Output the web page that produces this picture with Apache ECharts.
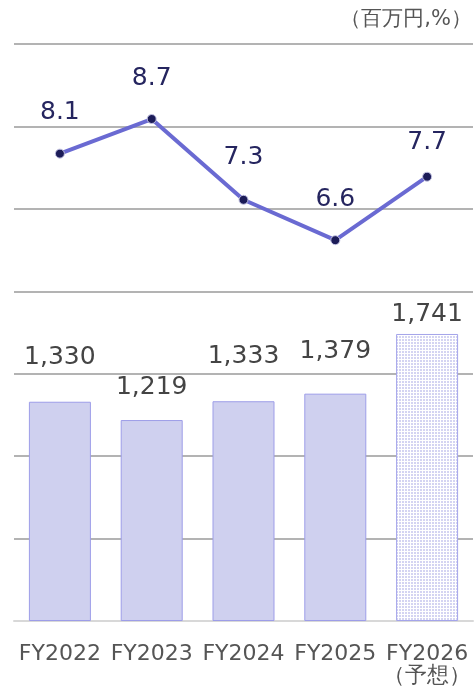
<!DOCTYPE html>
<html>
<head>
<meta charset="utf-8">
<script src="https://cdn.jsdelivr.net/npm/echarts@6/dist/echarts.min.js"></script>
<style>
  html, body { margin: 0; padding: 0; background: #fff; }
  #chart { width: 474px; height: 687px; }
</style>
</head>
<body>
<div id="chart"></div>
<script>
const categories = ['FY2022', 'FY2023', 'FY2024', 'FY2025', 'FY2026\n（予想）'];
const sales = [1330, 1219, 1333, 1379, 1741];   // 百万円
const margin = [8.1, 8.7, 7.3, 6.6, 7.7];       // %
const forecastIndex = 4;

// how far each label sits above its mark (label centre, px)
const barLabelLift = [44, 32, 44, 42, 19];
const lineLabelLift = [40, 40, 41, 40, 33];

const font = 'DejaVu Sans';

// dotted fill for the forecast bar
const makeDots = () => {
    const c = document.createElement('canvas');
    c.width = 3;
    c.height = 3;
    const ctx = c.getContext('2d');
    ctx.fillStyle = '#ffffff';
    ctx.fillRect(0, 0, 3, 3);
    ctx.fillStyle = '#d4d4f2';
    ctx.fillRect(0, 0, 2, 2);
    return c;
};

const chart = echarts.init(document.getElementById('chart'), null, { renderer: 'canvas' });

const barData = sales.map((v, i) => {
    const item = {
        value: v,
        label: { distance: barLabelLift[i] - 12 }
    };
    if (i === forecastIndex) {
        item.itemStyle = {
            color: { image: makeDots(), repeat: 'repeat' },
            borderColor: '#a4a4ea'
        };
    }
    return item;
});

const lineData = margin.map((v, i) => ({
    value: v,
    label: { distance: lineLabelLift[i] - 12 - 4.5 }
}));

const option = {
    animation: false,
    backgroundColor: '#fff',
    textStyle: { fontFamily: font },
    graphic: [{
        type: 'text',
        right: 2,
        top: 9,
        style: {
            text: '（百万円,%）',
            fontSize: 21,
            fontFamily: font,
            fill: '#555'
        }
    }],
    grid: { left: 14, right: 0, top: 44, bottom: 66 },
    xAxis: {
        type: 'category',
        data: categories,
        axisTick: { show: false },
        axisLine: { lineStyle: { color: '#d8d8d8', width: 2 } },
        axisLabel: {
            color: '#555',
            fontFamily: font,
            fontSize: 22,
            lineHeight: 22,
            margin: 22,
            interval: 0
        }
    },
    yAxis: [
        {
            type: 'value',
            min: 0,
            max: 3500,
            interval: 500,
            axisLabel: { show: false },
            axisLine: { show: false },
            axisTick: { show: false },
            splitLine: { lineStyle: { color: '#9a9a9a', width: 1.5 } }
        },
        {
            type: 'value',
            min: 0,
            max: 10,
            axisLabel: { show: false },
            axisLine: { show: false },
            axisTick: { show: false },
            splitLine: { show: false }
        }
    ],
    series: [
        {
            type: 'bar',
            data: barData,
            barWidth: 62,
            itemStyle: { color: '#cfd0ef', borderColor: '#9d9de8', borderWidth: 1 },
            label: {
                show: true,
                position: 'top',
                color: '#444',
                fontFamily: font,
                fontSize: 25,
                formatter: p => p.value.toLocaleString('en-US')
            }
        },
        {
            type: 'line',
            yAxisIndex: 1,
            data: lineData,
            symbol: 'circle',
            symbolSize: 9,
            lineStyle: { color: '#6a6ad2', width: 4 },
            itemStyle: { color: '#1c1c58', borderColor: '#c4c4e4', borderWidth: 1 },
            label: {
                show: true,
                position: 'top',
                color: '#25255f',
                fontFamily: font,
                fontSize: 25,
                formatter: p => p.value.toFixed(1)
            },
            z: 5
        }
    ]
};

chart.setOption(option);
</script>
</body>
</html>
